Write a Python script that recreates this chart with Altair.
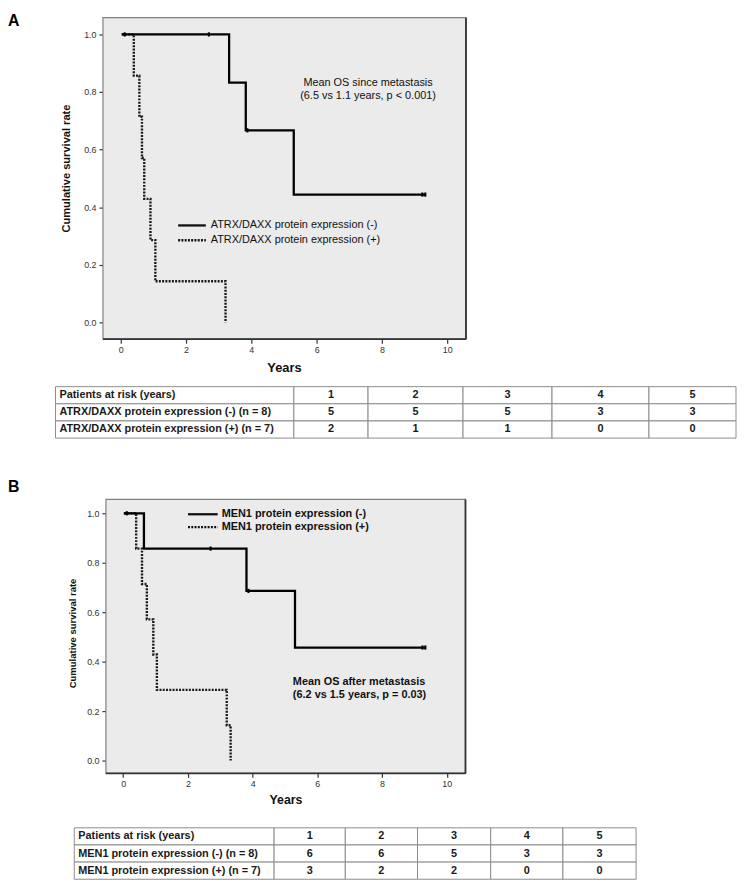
import altair as alt
import pandas as pd

# ---------------- data ----------------
# Panel A: ATRX/DAXX
ATRX_NEG_T = [0.03, 3.32, 3.83, 5.30, 9.33]
ATRX_NEG_S = [1.0, 0.833, 0.667, 0.444, 0.444]
ATRX_NEG_CENS_T = [0.12, 2.70, 3.88, 9.24, 9.33]
ATRX_NEG_CENS_S = [1.0, 1.0, 0.667, 0.444, 0.444]
ATRX_POS_T = [0.03, 0.40, 0.57, 0.65, 0.72, 0.91, 1.06, 3.21]
ATRX_POS_S = [1.0, 0.857, 0.714, 0.571, 0.429, 0.286, 0.143, 0.0]

# Panel B: MEN1
MEN1_NEG_T = [0.02, 0.64, 3.81, 5.31, 9.34]
MEN1_NEG_S = [1.0, 0.857, 0.686, 0.457, 0.457]
MEN1_NEG_CENS_T = [0.11, 2.70, 3.87, 9.25, 9.34]
MEN1_NEG_CENS_S = [1.0, 0.857, 0.686, 0.457, 0.457]
MEN1_POS_T = [0.02, 0.40, 0.58, 0.73, 0.93, 1.04, 3.20, 3.32]
MEN1_POS_S = [1.0, 0.857, 0.714, 0.571, 0.429, 0.286, 0.143, 0.0]

X_TICKS = [0, 2, 4, 6, 8, 10]
Y_TICKS = [0.0, 0.2, 0.4, 0.6, 0.8, 1.0]

LEGEND_A = ["ATRX/DAXX  protein expression (-)", "ATRX/DAXX  protein expression (+)"]
NOTE_A = ["Mean OS since metastasis", "(6.5 vs 1.1 years, p < 0.001)"]
LEGEND_B = ["MEN1 protein expression  (-)", "MEN1 protein expression (+)"]
NOTE_B = ["Mean OS after metastasis", "(6.2 vs 1.5 years, p = 0.03)"]

RISK_YEARS = ["1", "2", "3", "4", "5"]
RISK_HEAD = "Patients at risk (years)"
RISK_A_LABELS = ["ATRX/DAXX protein expression (-) (n = 8)", "ATRX/DAXX protein expression (+) (n = 7)"]
RISK_A_NEG = [5, 5, 5, 3, 3]
RISK_A_POS = [2, 1, 1, 0, 0]
RISK_B_LABELS = ["MEN1 protein expression (-) (n = 8)", "MEN1 protein expression (+) (n = 7)"]
RISK_B_NEG = [6, 6, 5, 3, 3]
RISK_B_POS = [3, 2, 2, 0, 0]

# ---------------- styles / layout ----------------
W = 737
SANS = "'Liberation Sans', Arial, sans-serif"
DOT_DASH = [2, 1.3]
CENSOR = "M-0.5,-1L0.5,-1L0.5,1L-0.5,1Z"


def km_panel(neg_t, neg_s, cens_t, cens_s, pos_t, pos_s, legend, note, P):
    xs = alt.Scale(domain=P["xdom"], range=P["xrange"], zero=False, nice=False)
    ys = alt.Scale(domain=P["ydom"], range=P["yrange"], zero=False, nice=False)
    xaxis = alt.Axis(values=X_TICKS, title="Years", offset=P["xoff"], domain=False, grid=False,
                     tickSize=4, tickColor="#333", tickWidth=1.2, labelFont=SANS, labelFontSize=9,
                     labelColor="#333", labelPadding=2, labelFlush=False, labelAngle=0,
                     titleFont=SANS, titleFontSize=P["xtitle_size"], titleFontWeight="bold",
                     titleColor="#111", titleX=P["xtitle_x"], titleY=P["xtitle_y"],
                     titleBaseline="middle", titleAlign="center")
    yaxis = alt.Axis(values=Y_TICKS, format=".1f", title="Cumulative survival rate", offset=P["yoff"],
                     domain=False, grid=False, tickSize=4, tickColor="#333", tickWidth=1.2,
                     labelFont=SANS, labelFontSize=9, labelColor="#333", labelPadding=3,
                     labelFlush=False, titleFont=SANS, titleFontSize=P["ytitle_size"],
                     titleFontWeight="bold", titleColor="#111", titleX=P["ytitle_x"],
                     titleY=P["ytitle_y"], titleAngle=270, titleBaseline="middle", titleAlign="center")

    def X(f):
        return alt.X(f, scale=xs, axis=xaxis)

    def Y(f):
        return alt.Y(f, scale=ys, axis=yaxis)

    fdf = pd.DataFrame({"x0": [P["xdom"][0]], "x1": [P["xdom"][1]],
                        "y0": [P["ydom"][0]], "y1": [P["ydom"][1]]})
    frame = alt.Chart(fdf).mark_rect(fill="#ebebeb", stroke="#808080", strokeWidth=1.2).encode(
        x=X("x0:Q"), x2="x1:Q", y=Y("y0:Q"), y2="y1:Q")
    right = alt.Chart(fdf).mark_rule(color="#333", strokeWidth=1.8).encode(
        x=X("x1:Q"), y=Y("y0:Q"), y2="y1:Q")
    bottom = alt.Chart(fdf).mark_rule(color="#333", strokeWidth=1.8).encode(
        x=X("x0:Q"), x2="x1:Q", y=Y("y0:Q"))

    pos_df = pd.DataFrame({"t": pos_t, "s": pos_s})
    neg_df = pd.DataFrame({"t": neg_t, "s": neg_s})
    cen_df = pd.DataFrame({"t": cens_t, "s": cens_s})
    dotted = alt.Chart(pos_df).mark_line(interpolate="step-after", color="#1a1a1a", strokeWidth=2.4,
                                         strokeDash=DOT_DASH, strokeCap="butt").encode(
        x=X("t:Q"), y=Y("s:Q"))
    solid = alt.Chart(neg_df).mark_line(interpolate="step-after", color="#000", strokeWidth=2.3).encode(
        x=X("t:Q"), y=Y("s:Q"))
    cens = alt.Chart(cen_df).mark_point(shape=CENSOR, filled=True, size=18, color="#000", opacity=1).encode(
        x=X("t:Q"), y=Y("s:Q"))

    layers = [frame, dotted, solid, cens, right, bottom]
    one = pd.DataFrame({"k": [0]})
    lx0, lx1, ltx = P["leg_x"]
    for i, (lab, yy) in enumerate(zip(legend, P["leg_y"])):
        mk = dict(color="#111", strokeWidth=2.3)
        if i == 1:
            mk.update(strokeDash=DOT_DASH, strokeWidth=2.4, strokeCap="butt")
        layers.append(alt.Chart(one).mark_rule(**mk).encode(
            x=alt.value(lx0), x2=alt.value(lx1), y=alt.value(yy)))
        layers.append(alt.Chart(one).mark_text(text=lab, align="left", baseline="middle", font=SANS,
                                               fontSize=P["leg_size"], fontWeight=P["leg_weight"],
                                               color="#111").encode(
            x=alt.value(ltx), y=alt.value(yy)))
    for lab, yy in zip(note, P["note_y"]):
        layers.append(alt.Chart(one).mark_text(text=lab, align=P["note_align"], baseline="middle",
                                               font=SANS, fontSize=P["note_size"],
                                               fontWeight=P["note_weight"], color="#111").encode(
            x=alt.value(P["note_x"]), y=alt.value(yy)))
    layers.append(alt.Chart(one).mark_text(text=P["letter"], align="left", baseline="top", font=SANS,
                                           fontSize=16, fontWeight="bold", color="#000").encode(
        x=alt.value(P["letter_xy"][0]), y=alt.value(P["letter_xy"][1])))
    return alt.layer(*layers).properties(width=W, height=P["height"])


def risk_table(labels, neg, pos, widths, xrange, yrange, height):
    edges = [0]
    for w in widths:
        edges.append(edges[-1] + w)
    rows = [[RISK_HEAD] + RISK_YEARS,
            [labels[0]] + [str(v) for v in neg],
            [labels[1]] + [str(v) for v in pos]]
    recs = []
    for r, row in enumerate(rows):
        for c, txt in enumerate(row):
            recs.append(dict(r0=r, r1=r + 1, rm=r + 0.5, x0=edges[c], x1=edges[c + 1],
                             xm=(edges[c] + edges[c + 1]) / 2, text=txt, col=c))
    df = pd.DataFrame(recs)
    xs = alt.Scale(domain=[0, edges[-1]], range=xrange, zero=False, nice=False)
    ys = alt.Scale(domain=[0, 3], range=yrange, zero=False, nice=False)
    base = alt.Chart(df)
    cells = base.mark_rect(fill="white", stroke="#8c8c8c", strokeWidth=1).encode(
        x=alt.X("x0:Q", scale=xs, axis=None), x2="x1:Q",
        y=alt.Y("r0:Q", scale=ys, axis=None), y2="r1:Q")
    tstyle = dict(baseline="middle", font=SANS, fontSize=11, fontWeight="bold", color="#1a1a1a")
    labs = base.transform_filter("datum.col == 0").mark_text(align="left", dx=4, **tstyle).encode(
        x=alt.X("x0:Q", scale=xs, axis=None), y=alt.Y("rm:Q", scale=ys, axis=None), text="text:N")
    nums = base.transform_filter("datum.col > 0").mark_text(align="center", **tstyle).encode(
        x=alt.X("xm:Q", scale=xs, axis=None), y=alt.Y("rm:Q", scale=ys, axis=None), text="text:N")
    return alt.layer(cells, labs, nums).properties(width=W, height=height)


PA = dict(xdom=[-0.545, 10.576], xrange=[96, 463], ydom=[-0.058, 1.058], yrange=[330, 5],
          xoff=-42, yoff=-96, height=372, xtitle_size=13, xtitle_x=279, xtitle_y=29,
          ytitle_size=11.2, ytitle_x=-36.5, ytitle_y=157,
          leg_x=(172, 200, 205), leg_y=(215, 230), leg_size=11, leg_weight="normal",
          note_x=364, note_y=(71, 84), note_align="center", note_size=11, note_weight="normal",
          letter="A", letter_xy=(0, 0))
PB = dict(xdom=[-0.535, 10.58], xrange=[99, 462.5], ydom=[-0.052, 1.056], yrange=[332, 55],
          xoff=-48, yoff=-99, height=380, xtitle_size=12.5, xtitle_x=280.5, xtitle_y=26,
          ytitle_size=9.6, ytitle_x=-33.5, ytitle_y=190,
          leg_x=(182, 212, 216), leg_y=(70, 83), leg_size=11, leg_weight="bold",
          note_x=288, note_y=(240, 253), note_align="left", note_size=11, note_weight="bold",
          letter="B", letter_xy=(0, 34))

chartA = km_panel(ATRX_NEG_T, ATRX_NEG_S, ATRX_NEG_CENS_T, ATRX_NEG_CENS_S,
                  ATRX_POS_T, ATRX_POS_S, LEGEND_A, NOTE_A, PA)
tableA = risk_table(RISK_A_LABELS, RISK_A_NEG, RISK_A_POS, [241, 75, 96, 90, 98, 88],
                    [48, 736], [6, 58], 65)
chartB = km_panel(MEN1_NEG_T, MEN1_NEG_S, MEN1_NEG_CENS_T, MEN1_NEG_CENS_S,
                  MEN1_POS_T, MEN1_POS_S, LEGEND_B, NOTE_B, PB)
tableB = risk_table(RISK_B_LABELS, RISK_B_NEG, RISK_B_POS, [202, 72, 73, 74, 73, 74],
                    [67, 635], [7, 59], 60)

chart = alt.vconcat(chartA, tableA, chartB, tableB, spacing=0).properties(
    padding=0, background="white"
).configure_view(stroke=None)

chart.save("out.html", embed_options={"renderer": "svg", "actions": False})
